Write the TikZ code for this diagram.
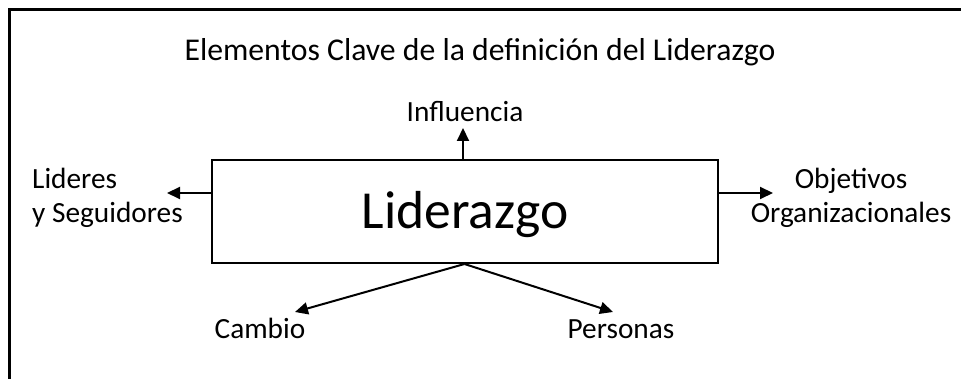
\documentclass[tikz,border=0pt]{standalone}
\usepackage{fontspec}
\setmainfont{Carlito}
\usetikzlibrary{arrows.meta}
\begin{document}
\begin{tikzpicture}[x=1pt,y=-1pt,
  lbl/.style={inner sep=0pt, font=\fontsize{29.3}{34}\selectfont},
  arr/.style={line width=2pt, -{Triangle[length=13pt,width=12pt]}},
  frame/.style={line width=3pt}]
\useasboundingbox (0,0) rectangle (961,379);
% frame: only top and left edges are visible
\coordinate (ftr) at (961,10);
\coordinate (ftl) at (9,10);
\coordinate (fbl) at (9,379);
\draw[frame] (ftr) -- (ftl) -- (fbl);
% title
\node[lbl, font=\fontsize{31.7}{36}\selectfont, anchor=base] (title) at (480,61) {Elementos Clave de la definición del Liderazgo};
% central box
\node[draw, line width=2pt, minimum width=506pt, minimum height=103pt, inner sep=0pt] (box) at (464.5,211.5) {};
\node[inner sep=0pt, font=\fontsize{53.5}{60}\selectfont, anchor=base] (lid) at (465,229) {Liderazgo};
% labels
\node[lbl, anchor=base] (infl) at (465,122) {Influencia};
\node[lbl, anchor=north west, align=left] (lid2) at (32,168) {Lideres\\y Seguidores};
\node[lbl, anchor=north, align=center] (obj) at (851,168) {Objetivos\\Organizacionales};
\node[lbl, anchor=base] (camb) at (260,338) {Cambio};
\node[lbl, anchor=base] (pers) at (621,338) {Personas};
% arrow tips
\coordinate (tI) at (463,128);
\coordinate (tL) at (167,193);
\coordinate (tR) at (773,193);
\coordinate (tC) at (295,312);
\coordinate (tP) at (613,312);
% connectors
\draw[arr] (box.north -| tI) -- (tI);
\draw[arr] (box.west |- tL) -- (tL);
\draw[arr] (box.east |- tR) -- (tR);
\draw[arr] (box.south) -- (tC);
\draw[arr] (box.south) -- (tP);
\end{tikzpicture}
\end{document}
